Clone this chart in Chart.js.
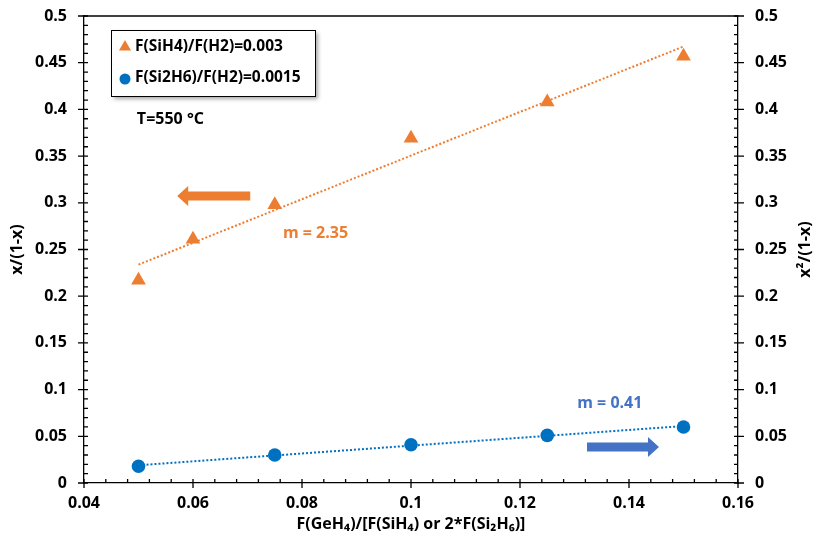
<!DOCTYPE html>
<html>
<head>
<meta charset="utf-8">
<script src="https://cdn.jsdelivr.net/npm/chart.js@4.4.1/dist/chart.umd.min.js"></script>
<style>
  html, body { margin: 0; padding: 0; background: #fff; }
  #wrap { width: 813px; height: 547px; }
</style>
</head>
<body>
<div id="wrap"><canvas id="chart" width="813" height="547"></canvas></div>
<script>
// data
var silaneX = [0.05, 0.06, 0.075, 0.1, 0.125, 0.15];
var silaneY = [0.217, 0.261, 0.298, 0.369, 0.408, 0.457];
var disilaneX = [0.05, 0.075, 0.1, 0.125, 0.15];
var disilaneY = [0.018, 0.030, 0.041, 0.051, 0.060];
var seriesLabels = ['F(SiH4)/F(H2)=0.003', 'F(Si2H6)/F(H2)=0.0015'];
var xTicks = [0.04, 0.06, 0.08, 0.1, 0.12, 0.14, 0.16];
var yTicks = [0, 0.05, 0.1, 0.15, 0.2, 0.25, 0.3, 0.35, 0.4, 0.45, 0.5];

var ORANGE = '#ED7D31';
var BLUE = '#0070C0';
var BLUE2 = '#4472C4';
var FONT = '"Open Sans", Lato, sans-serif';

function pts(xs, ys) {
    return xs.map(function(x, i) { return {x: x, y: ys[i]}; });
}

// linear trendline (least squares), drawn from first to last x
function trend(xs, ys) {
    var n = xs.length, sx = 0, sy = 0, sxx = 0, sxy = 0;
    for (var i = 0; i < n; i++) {
        sx += xs[i]; sy += ys[i]; sxx += xs[i] * xs[i]; sxy += xs[i] * ys[i];
    }
    var m = (n * sxy - sx * sy) / (n * sxx - sx * sx);
    var b = (sy - m * sx) / n;
    var x0 = Math.min.apply(null, xs), x1 = Math.max.apply(null, xs);
    return [{x: x0, y: m * x0 + b}, {x: x1, y: m * x1 + b}];
}

// notes and arrows, placed in data coordinates
var notes = [
    {text: 'T=550 °C', x: 0.0497, y: 0.3897, color: '#000', axis: 'y'},
    {text: 'm = 2.35', x: 0.0765, y: 0.2677, color: ORANGE, axis: 'y'},
    {text: 'm = 0.41', x: 0.1305, y: 0.0857, color: BLUE2, axis: 'y2'}
];
var arrows = [
    {from: 0.0705, to: 0.0571, y: 0.3073, color: ORANGE, axis: 'y'},
    {from: 0.1323, to: 0.1455, y: 0.0385, color: BLUE2, axis: 'y2'}
];

var decorPlugin = {
    id: 'decor',
    afterDatasetsDraw: function(chart) {
        var ctx = chart.ctx, a = chart.chartArea;
        var sx = chart.scales.x, sy = chart.scales.y;
        ctx.save();
        ctx.strokeStyle = '#000';
        ctx.lineWidth = 1.3;
        // top frame line
        ctx.beginPath();
        ctx.moveTo(a.left, a.top);
        ctx.lineTo(a.right, a.top);
        ctx.stroke();

        ctx.beginPath();
        // x ticks
        xTicks.forEach(function(v, i) {
            var p = sx.getPixelForValue(v);
            ctx.moveTo(p, a.bottom - 4); ctx.lineTo(p, a.bottom + 5);
            if (i < xTicks.length - 1) {
                var step = (xTicks[i + 1] - v) / 5;
                for (var k = 1; k < 5; k++) {
                    var q = sx.getPixelForValue(v + k * step);
                    ctx.moveTo(q, a.bottom); ctx.lineTo(q, a.bottom - 4);
                }
            }
        });
        // y ticks, both sides
        yTicks.forEach(function(v, i) {
            var p = sy.getPixelForValue(v);
            ctx.moveTo(a.left - 6, p); ctx.lineTo(a.left + 4, p);
            ctx.moveTo(a.right - 4, p); ctx.lineTo(a.right + 6, p);
            if (i < yTicks.length - 1) {
                var step = (yTicks[i + 1] - v) / 5;
                for (var k = 1; k < 5; k++) {
                    var q = sy.getPixelForValue(v + k * step);
                    ctx.moveTo(a.left, q); ctx.lineTo(a.left + 4, q);
                    ctx.moveTo(a.right, q); ctx.lineTo(a.right - 4, q);
                }
            }
        });
        ctx.stroke();
        ctx.restore();
    },
    afterDraw: function(chart) {
        var ctx = chart.ctx, a = chart.chartArea;
        var sx = chart.scales.x;
        ctx.save();

        // right axis title, reading bottom to top
        ctx.fillStyle = '#000';
        ctx.font = 'bold 16px ' + FONT;
        ctx.textAlign = 'center';
        ctx.textBaseline = 'middle';
        ctx.translate(805, (a.top + a.bottom) / 2);
        ctx.rotate(-Math.PI / 2);
        ctx.fillText('x\u00B2/(1-x)', 0, 0);
        ctx.setTransform(1, 0, 0, 1, 0, 0);
        ctx.scale(chart.currentDevicePixelRatio, chart.currentDevicePixelRatio);

        // notes
        ctx.textAlign = 'left';
        notes.forEach(function(n) {
            ctx.fillStyle = n.color;
            ctx.fillText(n.text, sx.getPixelForValue(n.x), chart.scales[n.axis].getPixelForValue(n.y));
        });

        // block arrows
        arrows.forEach(function(ar) {
            var x0 = sx.getPixelForValue(ar.from), x1 = sx.getPixelForValue(ar.to);
            var y = chart.scales[ar.axis].getPixelForValue(ar.y);
            var dir = x1 > x0 ? 1 : -1, head = 11, shaft = 4.5, wing = 10;
            ctx.fillStyle = ar.color;
            ctx.beginPath();
            ctx.moveTo(x0, y - shaft);
            ctx.lineTo(x1 - dir * head, y - shaft);
            ctx.lineTo(x1 - dir * head, y - wing);
            ctx.lineTo(x1, y);
            ctx.lineTo(x1 - dir * head, y + wing);
            ctx.lineTo(x1 - dir * head, y + shaft);
            ctx.lineTo(x0, y + shaft);
            ctx.closePath();
            ctx.fill();
        });

        // legend box
        var lx = 111, ly = 30, lw = 204, lh = 66;
        ctx.save();
        ctx.shadowColor = 'rgba(0,0,0,0.35)';
        ctx.shadowBlur = 4;
        ctx.shadowOffsetX = 3;
        ctx.shadowOffsetY = 3;
        ctx.fillStyle = '#fff';
        ctx.fillRect(lx, ly, lw, lh);
        ctx.restore();
        ctx.strokeStyle = '#000';
        ctx.lineWidth = 1;
        ctx.strokeRect(lx + 0.5, ly + 0.5, lw, lh);
        var styles = [
            {pointStyle: 'triangle', radius: 7, color: ORANGE, dy: 0},
            {pointStyle: 'circle', radius: 5.5, color: BLUE, dy: 1}
        ];
        ctx.font = 'bold 15.5px ' + FONT;
        styles.forEach(function(s, i) {
            var cy = ly + 17 + i * 31;
            ctx.fillStyle = s.color;
            ctx.strokeStyle = s.color;
            Chart.helpers.drawPoint(ctx, {pointStyle: s.pointStyle, radius: s.radius, borderWidth: 0}, lx + 14, cy + s.dy);
            ctx.fillStyle = '#000';
            ctx.fillText(seriesLabels[i], lx + 24, cy);
        });
        ctx.restore();
    }
};

var ctx = document.getElementById('chart').getContext('2d');

var tickFont = {family: FONT, size: 16, weight: 'bold'};

function fitY(width) {
    return function(s) { s.width = width; s.paddingTop = 0; s.paddingBottom = 0; };
}

new Chart(ctx, {
    type: 'scatter',
    data: {
        datasets: [{
            label: seriesLabels[0],
            data: pts(silaneX, silaneY),
            yAxisID: 'y',
            pointStyle: 'triangle',
            pointRadius: 8.5,
            backgroundColor: ORANGE,
            borderColor: ORANGE,
            borderWidth: 0,
            order: 1
        }, {
            label: seriesLabels[1],
            data: pts(disilaneX, disilaneY),
            yAxisID: 'y2',
            pointStyle: 'circle',
            pointRadius: 6.8,
            backgroundColor: BLUE,
            borderColor: BLUE,
            borderWidth: 0,
            order: 1
        }, {
            label: 'trend 1',
            data: trend(silaneX, silaneY),
            yAxisID: 'y',
            showLine: true,
            pointRadius: 0,
            borderColor: ORANGE,
            borderWidth: 2,
            borderDash: [2, 2],
            order: 2
        }, {
            label: 'trend 2',
            data: trend(disilaneX, disilaneY),
            yAxisID: 'y2',
            showLine: true,
            pointRadius: 0,
            borderColor: BLUE,
            borderWidth: 2,
            borderDash: [2, 2],
            order: 2
        }]
    },
    options: {
        responsive: false,
        animation: false,
        layout: { padding: { top: 16, left: 0, right: 0, bottom: 0 } },
        plugins: {
            legend: { display: false },
            tooltip: { enabled: false }
        },
        scales: {
            x: {
                type: 'linear',
                min: 0.04, max: 0.16,
                afterBuildTicks: function(s) { s.ticks = xTicks.map(function(v) { return {value: v}; }); },
                afterFit: function(s) { s.height = 64; s.paddingLeft = 0; s.paddingRight = 0; },
                grid: { display: false, drawTicks: false },
                border: { display: true, color: '#000', width: 1.3 },
                ticks: { color: '#000', font: tickFont, padding: 11, maxRotation: 0,
                         callback: function(v) { return String(v); } },
                title: { display: true, text: 'F(GeH\u2084)/[F(SiH\u2084) or 2*F(Si\u2082H\u2086)]',
                         color: '#000', font: tickFont, padding: { top: 0, bottom: 13 } }
            },
            y: {
                type: 'linear', position: 'left',
                min: 0, max: 0.5,
                afterBuildTicks: function(s) { s.ticks = yTicks.map(function(v) { return {value: v}; }); },
                afterFit: fitY(84),
                grid: { display: false, drawTicks: false },
                border: { display: true, color: '#000', width: 1.3 },
                ticks: { color: '#000', font: tickFont, padding: 17,
                         callback: function(v) { return String(v); } },
                title: { display: true, text: 'x/(1-x)', color: '#000', font: tickFont,
                         padding: { top: 8, bottom: 0 } }
            },
            y2: {
                type: 'linear', position: 'right',
                min: 0, max: 0.5,
                afterBuildTicks: function(s) { s.ticks = yTicks.map(function(v) { return {value: v}; }); },
                afterFit: fitY(75),
                grid: { display: false, drawTicks: false },
                border: { display: true, color: '#000', width: 1.3 },
                ticks: { color: '#000', font: tickFont, padding: 17,
                         callback: function(v) { return String(v); } }
            }
        }
    },
    plugins: [decorPlugin]
});
</script>
</body>
</html>
